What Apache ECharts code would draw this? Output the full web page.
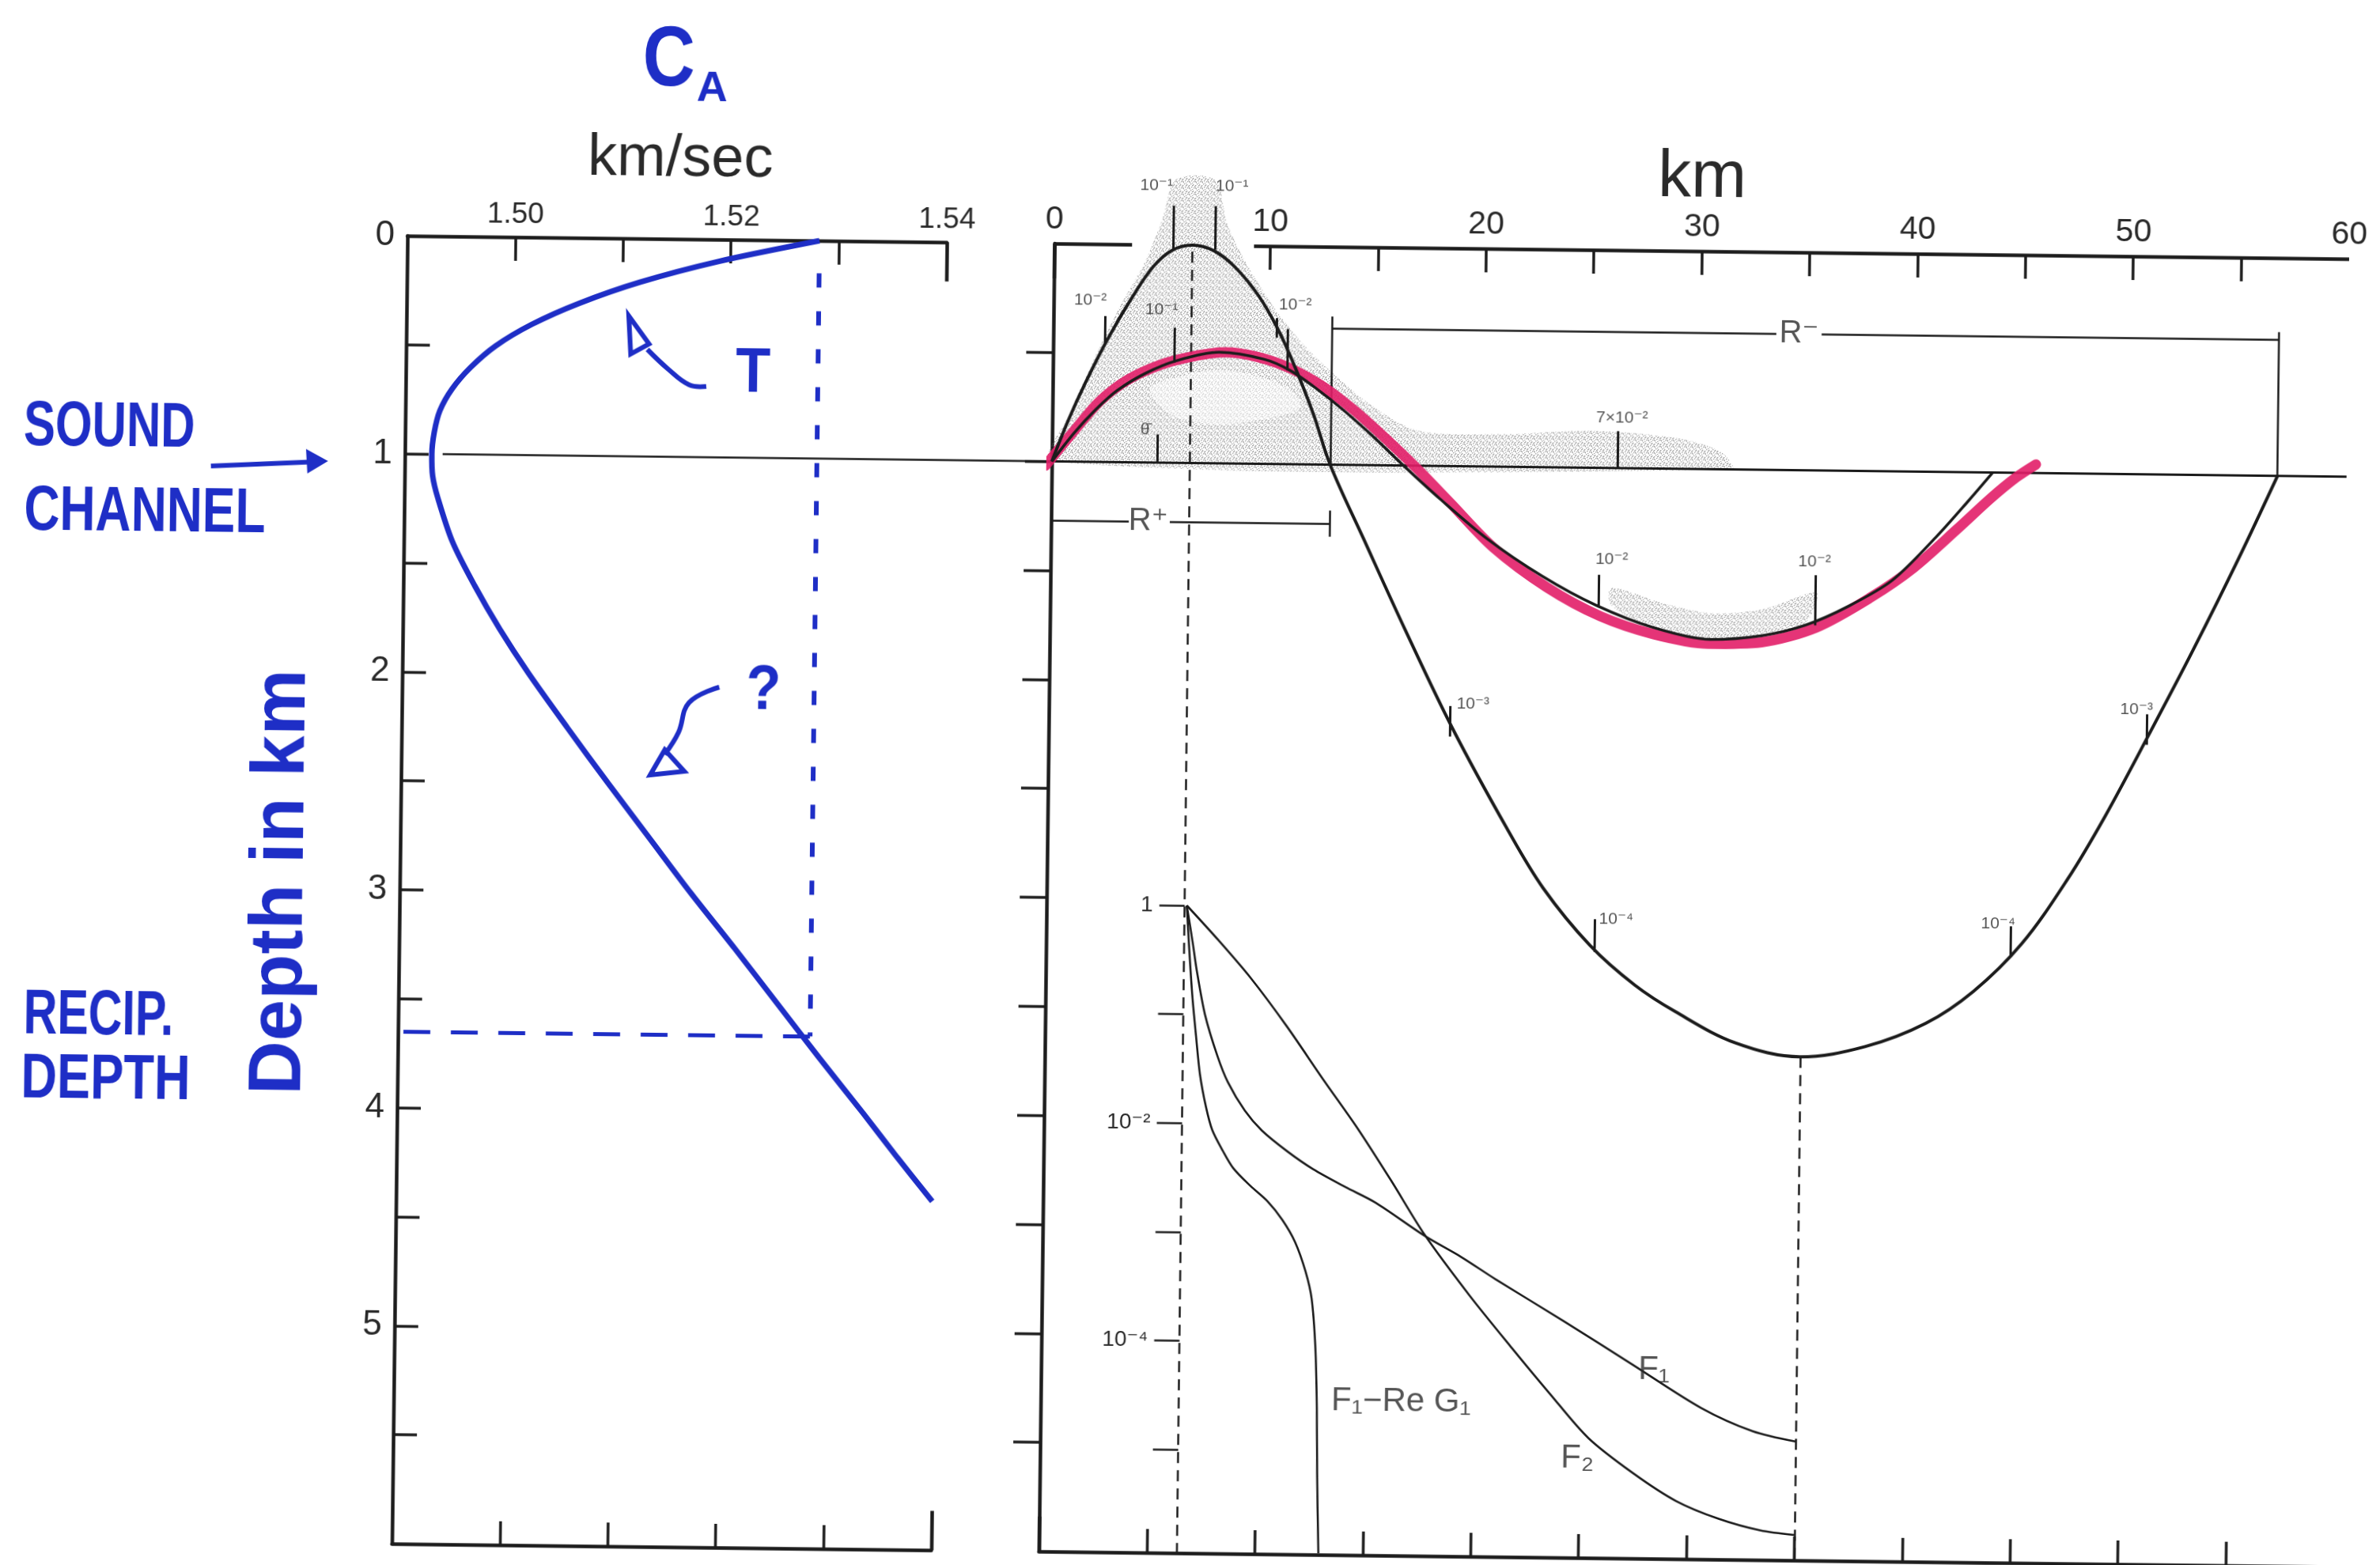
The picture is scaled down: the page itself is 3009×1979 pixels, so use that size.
<!DOCTYPE html>
<html><head><meta charset="utf-8">
<script src="https://cdn.jsdelivr.net/npm/echarts@6/dist/echarts.min.js"></script>
<style>
html,body{margin:0;padding:0;background:#fff;overflow:hidden}
#chart{width:3009px;height:1979px;transform:rotate(0.68deg);transform-origin:50% 50%;background:#fff}
</style></head><body><div id="chart"></div>
<script>
// ---------------- data ----------------
// Left panel: sound speed profile C_A (km/sec) vs depth (km)
const profileDepth = [0, 0.1, 0.2, 0.3, 0.4, 0.5, 0.6, 0.7, 0.8, 0.9, 1.0, 1.1, 1.2, 1.4, 1.6, 1.8, 2.0, 2.25, 2.5, 2.75, 3.0, 3.25, 3.5, 3.75, 4.0, 4.2, 4.4];
const profileSpeed = [1.5282, 1.5189, 1.5116, 1.5060, 1.5016, 1.4983, 1.4960, 1.4943, 1.4932, 1.4927, 1.4925, 1.4926, 1.4931, 1.4945, 1.4966, 1.4990, 1.5017, 1.5054, 1.5092, 1.5131, 1.5170, 1.5211, 1.5251, 1.5291, 1.5332, 1.5364, 1.5397];
const surfaceSpeed = 1.5282;
const recipDepth = 3.65;
const channelDepth = 1.0;

// axis ticks / labels
const speedTicks = [1.50, 1.51, 1.52, 1.53];
const speedTickLabels = [1.50, 1.52, 1.54];
const depthTicks = [0.5, 1, 1.5, 2, 2.5, 3, 3.5, 4, 4.5, 5, 5.5];
const depthTickLabels = [0, 1, 2, 3, 4, 5];
const rangeTopTicks = [10, 15, 20, 25, 30, 35, 40, 45, 50, 55];
const rangeBottomTicks = [5, 10, 15, 20, 25, 30, 35, 40, 45, 50, 55];
const rangeTickLabels = [0, 10, 20, 30, 40, 50, 60];
const logTicks = [1, 1e-1, 1e-2, 1e-3, 1e-4, 1e-5];
const logTickLabels = [1, 1e-2, 1e-4];

// Right panel rays: range (km) vs depth (km)
const steepRange = [0, 0.7, 1.5, 2.55, 3.65, 4.6, 5.45, 6.4, 7.4, 8.4, 9.5, 10.4, 11.2, 12.1, 12.9, 14.5, 16.5, 18.7, 21.3, 23.0, 25.2, 27.3, 29.2, 32.0, 35.0, 38.0, 40.8, 43.0, 45.2, 47.3, 49.0, 51.0, 53.0, 55.0, 56.8];
const steepDepth = [1.0, 0.82, 0.64, 0.43, 0.24, 0.1, 0.025, 0, 0.025, 0.1, 0.23, 0.38, 0.55, 0.77, 1.0, 1.34, 1.76, 2.2, 2.66, 2.93, 3.19, 3.37, 3.49, 3.63, 3.69, 3.64, 3.53, 3.38, 3.16, 2.86, 2.57, 2.19, 1.8, 1.39, 1.0];
const shallowRange = [0, 1.0, 2.0, 3.0, 4.3, 5.75, 7.7, 9.8, 11.0, 12.2, 13.5, 14.9, 16.3, 18.0, 20.2, 22.8, 25.3, 28.0, 30.6, 33.0, 35.0, 37.0, 39.0, 41.0, 42.5, 43.6];
const shallowDepth = [1.0, 0.87, 0.76, 0.67, 0.59, 0.53, 0.49, 0.52, 0.57, 0.65, 0.75, 0.87, 1.0, 1.15, 1.33, 1.5, 1.63, 1.73, 1.78, 1.76, 1.71, 1.62, 1.5, 1.3, 1.13, 1.0];
const pinkRange = [-0.3, 1.0, 2.2, 3.5, 5.0, 6.5, 8.0, 9.5, 11.0, 12.5, 14.0, 15.5, 17.0, 18.5, 20.5, 23.0, 25.5, 28.0, 30.5, 33.0, 35.5, 38.0, 40.0, 42.0, 43.5, 44.7, 45.6];
const pinkDepth = [1.02, 0.86, 0.72, 0.62, 0.55, 0.51, 0.49, 0.51, 0.56, 0.64, 0.75, 0.88, 1.02, 1.17, 1.37, 1.55, 1.68, 1.76, 1.8, 1.79, 1.72, 1.58, 1.44, 1.26, 1.12, 1.02, 0.96];
const peakRange = 6.4;
const troughRange = 35.0;
const troughDepth = 3.69;
const rPlus = 12.9;
const rMinusEnd = 56.8;

// labelled markers on the rays
const rayLabelText = ['10\u207B\u00B9', '10\u207B\u00B9', '10\u207B\u00B2', '10\u207B\u00B2', '10\u207B\u00B9', '\u03B8\u0304', '7\u00D710\u207B\u00B2', '10\u207B\u00B2', '10\u207B\u00B2', '10\u207B\u00B3', '10\u207B\u00B3', '10\u207B\u2074', '10\u207B\u2074'];
const rayLabelRange = [4.7, 8.2, 1.7, 11.2, 5.0, 4.3, 26.4, 26.0, 35.4, 19.65, 50.4, 26.4, 44.1];
const rayLabelDepth = [-0.27, -0.27, 0.26, 0.27, 0.3, 0.85, 0.77, 1.42, 1.42, 2.09, 2.08, 3.07, 3.07];
const rayTickSegs = [
  [[5.5, -0.18], [5.5, 0.02]], [[7.45, -0.18], [7.45, 0.02]],
  [[2.4, 0.33], [2.4, 0.46]], [[10.35, 0.33], [10.35, 0.42]],
  [[5.6, 0.38], [5.6, 0.54]], [[10.85, 0.38], [10.85, 0.57]],
  [[4.9, 0.87], [4.9, 1.0]],
  [[26.2, 0.83], [26.2, 1.0]],
  [[25.4, 1.49], [25.4, 1.64]], [[35.45, 1.48], [35.45, 1.71]],
  [[18.6, 2.1], [18.6, 2.24]], [[50.9, 2.1], [50.9, 2.24]],
  [[25.4, 3.07], [25.4, 3.22]], [[44.7, 3.08], [44.7, 3.22]]
];

// stippled (ray density) regions
const grayPolyUpper = [[0, 1.0], [0.8, 0.78], [1.8, 0.55], [3.0, 0.3], [4.2, 0.08], [5.0, -0.12], [5.6, -0.3], [7.4, -0.3], [8.0, -0.1], [8.9, 0.08], [10.2, 0.28], [11.6, 0.45], [13.2, 0.6], [15.0, 0.74], [17.0, 0.84], [21, 0.85], [25, 0.83], [29, 0.86], [31, 0.92], [31.5, 1.0]];
const lightPolyInner = [[4.5, 0.66], [6.0, 0.6], [7.7, 0.57], [9.6, 0.6], [11.0, 0.66], [11.5, 0.74], [9.5, 0.8], [7.5, 0.82], [5.5, 0.78]];
const grayPolyTrough = [[26, 1.55], [28.5, 1.62], [30.6, 1.66], [33, 1.64], [35.5, 1.56], [35, 1.7], [33, 1.76], [30.6, 1.78], [28, 1.73], [26, 1.63]];

// Lower inset (log scale): F1, F2, F1 - Re G1 vs range (km)
const f1Range = [6.5, 6.8, 7.0, 7.4, 8.0, 8.5, 9.3, 10.1, 11.3, 12.5, 14.0, 15.4, 17.7, 19.4, 21.0, 24.2, 27.4, 30.6, 33.0, 35.0];
const f1Value = [1, 4.47e-1, 2.51e-1, 1.0e-1, 4.17e-2, 2.4e-2, 1.32e-2, 8.7e-3, 5.62e-3, 3.89e-3, 2.69e-3, 1.95e-3, 9.77e-4, 6.31e-4, 3.98e-4, 1.66e-4, 6.76e-5, 2.75e-5, 1.70e-5, 1.38e-5];
const f2Range = [6.5, 8.0, 9.5, 11.2, 12.9, 14.5, 16.1, 17.7, 19.8, 21.8, 23.6, 25.4, 27.5, 29.5, 31.5, 33.4, 35.0];
const f2Value = [1, 4.79e-1, 2.19e-1, 7.94e-2, 2.63e-2, 9.55e-3, 3.16e-3, 1.0e-3, 2.82e-4, 9.33e-5, 3.55e-5, 1.41e-5, 6.76e-6, 3.80e-6, 2.63e-6, 2.09e-6, 1.91e-6];
const fdRange = [6.5, 6.6, 6.8, 7.0, 7.2, 7.5, 7.8, 8.3, 8.8, 9.6, 10.4, 11.1, 11.7, 12.2, 12.5, 12.7, 12.8, 12.85, 12.95];
const fdValue = [1, 5.0e-1, 1.51e-1, 6.3e-2, 2.82e-2, 1.41e-2, 8.7e-3, 5.62e-3, 3.89e-3, 2.69e-3, 1.95e-3, 1.32e-3, 8.3e-4, 4.47e-4, 2.51e-4, 8.9e-5, 2.5e-5, 6.3e-6, 1.15e-6];
const fLabelText = ['F\u2081', 'F\u2082', 'F\u2081\u2212Re G\u2081'];
const fLabelRange = [28.4, 24.9, 16.7];
const fLabelValue = [6.1e-5, 9.2e-6, 2.9e-5];

// ---------------- styling ----------------
const INK = '#1c1c1c';
const TXT = '#2a2a2a';
const BLUE = '#1e2ec6';
const PINK = 'rgba(226,30,104,0.9)';
const FONT = "'Liberation Sans','DejaVu Sans',Arial,sans-serif";

const zip = (a, b) => a.map((v, i) => [v, b[i]]);

// stipple pattern (fixed dot layout)
const pat = document.createElement('canvas');
pat.width = 8; pat.height = 8;
(function () {
  const c = pat.getContext('2d');
  c.fillStyle = 'rgba(100,100,100,0.6)';
  [[0,0],[3,1],[6,2],[1,4],[4,5],[7,6],[2,7],[5,3],[6,5],[2,2]].forEach(p => c.fillRect(p[0], p[1], 1.4, 1.4));
})();

const chart = echarts.init(document.getElementById('chart'), null, {renderer: 'canvas', width: 3009, height: 1979});

const axisLineStyle = {color: INK, width: 4.5};
const tickStyle = {color: INK, width: 3.5};

function handText(txt, x, y, size, sx) {
  return {type: 'text', x: x, y: y, scaleX: sx, style: {text: txt, font: 'bold ' + size + 'px ' + FONT, fill: BLUE, textAlign: 'center', textVerticalAlign: 'middle'}};
}

const option = {
  animation: false,
  backgroundColor: '#fff',
  grid: [
    {left: 507, top: 310, width: 682, height: 1654},
    {left: 1325, top: 310, width: 1637, height: 1654},
    {left: 1499.6, top: 1145, width: 1462.4, height: 825.6}
  ],
  xAxis: [
    {gridIndex: 0, type: 'value', position: 'top', min: 1.49, max: 1.54, splitLine: {show: false},
     axisLine: {show: true, lineStyle: axisLineStyle},
     axisTick: {show: true, inside: true, length: 30, lineStyle: tickStyle, customValues: speedTicks},
     axisLabel: {show: true, customValues: speedTickLabels, formatter: v => v.toFixed(2), fontSize: 37, color: TXT, fontFamily: FONT, margin: 10}},
    {gridIndex: 0, type: 'value', position: 'bottom', min: 1.49, max: 1.54, splitLine: {show: false},
     axisLine: {show: true, lineStyle: axisLineStyle},
     axisTick: {show: true, inside: true, length: 30, lineStyle: tickStyle, customValues: speedTicks},
     axisLabel: {show: false}},
    {gridIndex: 1, type: 'value', position: 'top', min: 0, max: 60, splitLine: {show: false},
     axisLine: {show: false},
     axisTick: {show: true, inside: true, length: 30, lineStyle: tickStyle, customValues: rangeTopTicks},
     axisLabel: {show: true, customValues: rangeTickLabels, fontSize: 41, color: TXT, fontFamily: FONT, margin: 10}},
    {gridIndex: 1, type: 'value', position: 'bottom', min: 0, max: 60, splitLine: {show: false},
     axisLine: {show: true, lineStyle: axisLineStyle},
     axisTick: {show: true, inside: true, length: 30, lineStyle: tickStyle, customValues: rangeBottomTicks},
     axisLabel: {show: false}},
    {gridIndex: 2, type: 'value', min: 6.4, max: 60, show: false}
  ],
  yAxis: [
    {gridIndex: 0, type: 'value', position: 'left', min: 0, max: 6, inverse: true, splitLine: {show: false},
     axisLine: {show: true, lineStyle: axisLineStyle},
     axisTick: {show: true, inside: true, length: 30, lineStyle: tickStyle, customValues: depthTicks},
     axisLabel: {show: true, customValues: depthTickLabels, fontSize: 44, color: TXT, fontFamily: FONT, margin: 16}},
    {gridIndex: 1, type: 'value', position: 'right', min: 0, max: 6, inverse: true, splitLine: {show: false},
     axisLine: {show: true, lineStyle: axisLineStyle},
     axisTick: {show: true, inside: true, length: 34, lineStyle: tickStyle, customValues: depthTicks},
     axisLabel: {show: false}},
    {gridIndex: 2, type: 'log', logBase: 10, position: 'left', min: 1e-6, max: 1, splitLine: {show: false},
     axisLine: {show: false},
     axisTick: {show: true, inside: false, length: 32, lineStyle: {color: INK, width: 2.5}, customValues: logTicks},
     axisLabel: {show: true, customValues: logTickLabels, fontSize: 28, color: TXT, fontFamily: FONT, margin: 40,
       formatter: v => (v > 0.5 ? '1' : (v > 1e-3 ? '10\u207B\u00B2' : '10\u207B\u2074'))}}
  ],
  series: [
    // stippled ray-density areas
    {type: 'custom', coordinateSystem: 'cartesian2d', xAxisIndex: 2, yAxisIndex: 1, clip: false, z: 1, silent: true,
     data: [[0], [1], [2]],
     renderItem: function (params, api) {
       const polys = [grayPolyUpper, lightPolyInner, grayPolyTrough];
       const poly = polys[params.dataIndex];
       const pts = poly.map(p => api.coord(p));
       const fill = params.dataIndex === 1 ? 'rgba(255,255,255,0.5)' : {image: pat, repeat: 'repeat'};
       return {type: 'polygon', shape: {points: pts, smooth: 0.3}, style: {fill: fill, stroke: null}};
     }},
    // left panel: channel axis line (extends across the gap to the right panel)
    {type: 'lines', coordinateSystem: 'cartesian2d', xAxisIndex: 0, yAxisIndex: 0, clip: false, z: 3, silent: true,
     lineStyle: {color: INK, width: 2.5, opacity: 1},
     data: [{coords: [[1.4935, channelDepth], [1.55, channelDepth]]}]},
    // left panel: right-border corner stubs
    {type: 'lines', coordinateSystem: 'cartesian2d', xAxisIndex: 0, yAxisIndex: 0, clip: false, z: 3, silent: true,
     lineStyle: {color: INK, width: 4.5, opacity: 1},
     data: [{coords: [[1.54, 0], [1.54, 0.18]]}, {coords: [[1.54, 5.82], [1.54, 6]]}]},
    // left panel: blue dashed guides (surface speed / reciprocal depth)
    {type: 'lines', coordinateSystem: 'cartesian2d', xAxisIndex: 0, yAxisIndex: 0, clip: false, z: 3, silent: true,
     lineStyle: {color: BLUE, width: 6, type: [18, 30], opacity: 1},
     data: [{coords: [[surfaceSpeed, 0.15], [surfaceSpeed, recipDepth]]}]},
    {type: 'lines', coordinateSystem: 'cartesian2d', xAxisIndex: 0, yAxisIndex: 0, clip: false, z: 3, silent: true,
     lineStyle: {color: BLUE, width: 5, type: [34, 26], opacity: 1},
     data: [{coords: [[1.4905, recipDepth], [surfaceSpeed, recipDepth]]}]},
    // left panel: blue sound-speed profile
    {type: 'line', xAxisIndex: 0, yAxisIndex: 0, data: zip(profileSpeed, profileDepth), showSymbol: false,
     smooth: 0.3, z: 5, lineStyle: {color: BLUE, width: 7}},
    // right panel: frame pieces, channel axis
    {type: 'lines', coordinateSystem: 'cartesian2d', xAxisIndex: 2, yAxisIndex: 1, clip: false, z: 3, silent: true,
     lineStyle: {color: INK, width: 4.5, opacity: 1},
     data: [{coords: [[0, 0], [3.6, 0]]}, {coords: [[9.25, 0], [60, 0]]}, {coords: [[0, 0], [0, 0.16]]}, {coords: [[0, 5.84], [0, 6]]}]},
    {type: 'lines', coordinateSystem: 'cartesian2d', xAxisIndex: 2, yAxisIndex: 1, clip: false, z: 3, silent: true,
     lineStyle: {color: INK, width: 3, opacity: 1},
     data: [{coords: [[0, channelDepth], [60, channelDepth]]}]},
    // dashed verticals through peak and trough
    {type: 'lines', coordinateSystem: 'cartesian2d', xAxisIndex: 2, yAxisIndex: 1, clip: false, z: 3, silent: true,
     lineStyle: {color: INK, width: 2.5, type: [14, 9], opacity: 1},
     data: [{coords: [[peakRange, 0.03], [peakRange, 6]]}, {coords: [[troughRange, troughDepth], [troughRange, 6]]}]},
    // R+ / R- dimension lines
    {type: 'lines', coordinateSystem: 'cartesian2d', xAxisIndex: 2, yAxisIndex: 1, clip: false, z: 3, silent: true,
     lineStyle: {color: INK, width: 2.5, opacity: 1},
     data: [
       {coords: [[0, 1.27], [3.6, 1.27]]}, {coords: [[5.5, 1.27], [rPlus, 1.27]]},
       {coords: [[0, 1.21], [0, 1.33]]}, {coords: [[rPlus, 1.21], [rPlus, 1.33]]},
       {coords: [[rPlus, 0.375], [33.5, 0.375]]}, {coords: [[35.6, 0.375], [rMinusEnd, 0.375]]},
       {coords: [[rPlus, 0.32], [rPlus, 1.0]]}, {coords: [[rMinusEnd, 0.34], [rMinusEnd, 1.0]]}
     ]},
    // marker ticks on rays
    {type: 'lines', coordinateSystem: 'cartesian2d', xAxisIndex: 2, yAxisIndex: 1, clip: false, z: 6, silent: true,
     lineStyle: {color: INK, width: 3, opacity: 1},
     data: rayTickSegs.map(s => ({coords: s}))},
    // pink highlight of the shallow ray
    {type: 'line', xAxisIndex: 2, yAxisIndex: 1, data: zip(pinkRange, pinkDepth), showSymbol: false, clip: false,
     smooth: 0.3, z: 4, lineStyle: {color: PINK, width: 13, cap: 'round'}},
    // black rays
    {type: 'line', xAxisIndex: 2, yAxisIndex: 1, data: zip(shallowRange, shallowDepth), showSymbol: false,
     smooth: 0.3, z: 5, lineStyle: {color: INK, width: 3.5}},
    {type: 'line', xAxisIndex: 2, yAxisIndex: 1, data: zip(steepRange, steepDepth), showSymbol: false,
     smooth: 0.35, z: 5, lineStyle: {color: INK, width: 4}},
    // small marker labels
    {type: 'scatter', xAxisIndex: 2, yAxisIndex: 1, symbolSize: 0, clip: false, z: 7, silent: true,
     data: rayLabelText.map((t, i) => ({name: t, value: [rayLabelRange[i], rayLabelDepth[i]]})),
     label: {show: true, position: 'inside', formatter: p => p.name, fontSize: 21, color: TXT, fontFamily: FONT}},
    {type: 'scatter', xAxisIndex: 2, yAxisIndex: 1, symbolSize: 0, clip: false, z: 7, silent: true,
     data: [{name: 'R\u207A', value: [4.5, 1.27]}, {name: 'R\u207B', value: [34.55, 0.375]}],
     label: {show: true, position: 'inside', formatter: p => p.name, fontSize: 40, color: TXT, fontFamily: FONT}},
    // lower inset curves (log scale)
    {type: 'line', xAxisIndex: 4, yAxisIndex: 2, data: zip(f1Range, f1Value), showSymbol: false,
     smooth: 0.3, z: 5, lineStyle: {color: INK, width: 2.6}},
    {type: 'line', xAxisIndex: 4, yAxisIndex: 2, data: zip(f2Range, f2Value), showSymbol: false,
     smooth: 0.3, z: 5, lineStyle: {color: INK, width: 2.6}},
    {type: 'line', xAxisIndex: 4, yAxisIndex: 2, data: zip(fdRange, fdValue), showSymbol: false,
     smooth: 0.3, z: 5, lineStyle: {color: INK, width: 2.6}},
    {type: 'scatter', xAxisIndex: 4, yAxisIndex: 2, symbolSize: 0, clip: false, z: 7, silent: true,
     data: fLabelText.map((t, i) => ({name: t, value: [fLabelRange[i], fLabelValue[i]]})),
     label: {show: true, position: 'inside', formatter: p => p.name, fontSize: 42, color: TXT, fontFamily: FONT}}
  ],
  graphic: [
    // unit titles
    {type: 'text', x: 851, y: 210, style: {text: 'km/sec', font: '74px ' + FONT, fill: TXT, textAlign: 'center', textVerticalAlign: 'middle'}},
    {type: 'text', x: 2143, y: 218, style: {text: 'km', font: '84px ' + FONT, fill: TXT, textAlign: 'center', textVerticalAlign: 'middle'}},
    // handwritten blue annotations
    {type: 'text', x: 835, y: 86, scaleX: 0.85, style: {text: 'C', font: 'bold 108px ' + FONT, fill: BLUE, textAlign: 'center', textVerticalAlign: 'middle'}},
    {type: 'text', x: 890, y: 120, style: {text: 'A', font: 'bold 54px ' + FONT, fill: BLUE, textAlign: 'center', textVerticalAlign: 'middle'}},
    {type: 'text', x: 358, y: 1129, rotation: Math.PI / 2, style: {text: 'Depth in km', font: 'bold 94px ' + FONT, fill: BLUE, textAlign: 'center', textVerticalAlign: 'middle'}},
    handText('SOUND', 133, 558, 80, 0.75),
    handText('CHANNEL', 179, 665, 80, 0.78),
    handText('RECIP.', 128, 1302, 80, 0.74),
    handText('DEPTH', 138, 1383, 80, 0.79),
    {type: 'polyline', shape: {points: [[262, 604], [396, 597]]}, style: {stroke: BLUE, lineWidth: 6, fill: null}},
    {type: 'polygon', shape: {points: [[410, 596], [382, 581], [384, 612]]}, style: {fill: BLUE}},
    handText('T', 946, 480, 80, 0.9),
    {type: 'polyline', shape: {points: [[887, 496], [865, 494], [839, 475], [812, 450]], smooth: 0.4}, style: {stroke: BLUE, lineWidth: 6, fill: null}},
    {type: 'polygon', shape: {points: [[788, 408], [791, 456], [814, 443]]}, style: {stroke: BLUE, lineWidth: 6, fill: null}},
    handText('?', 964, 881, 80, 0.9),
    {type: 'polyline', shape: {points: [[908, 876], [870, 896], [857, 934], [840, 962]], smooth: 0.4}, style: {stroke: BLUE, lineWidth: 6, fill: null}},
    {type: 'polygon', shape: {points: [[822, 988], [840, 956], [865, 983]]}, style: {stroke: BLUE, lineWidth: 6, fill: null}}
  ]
};
chart.setOption(option);
</script>
</body></html>
